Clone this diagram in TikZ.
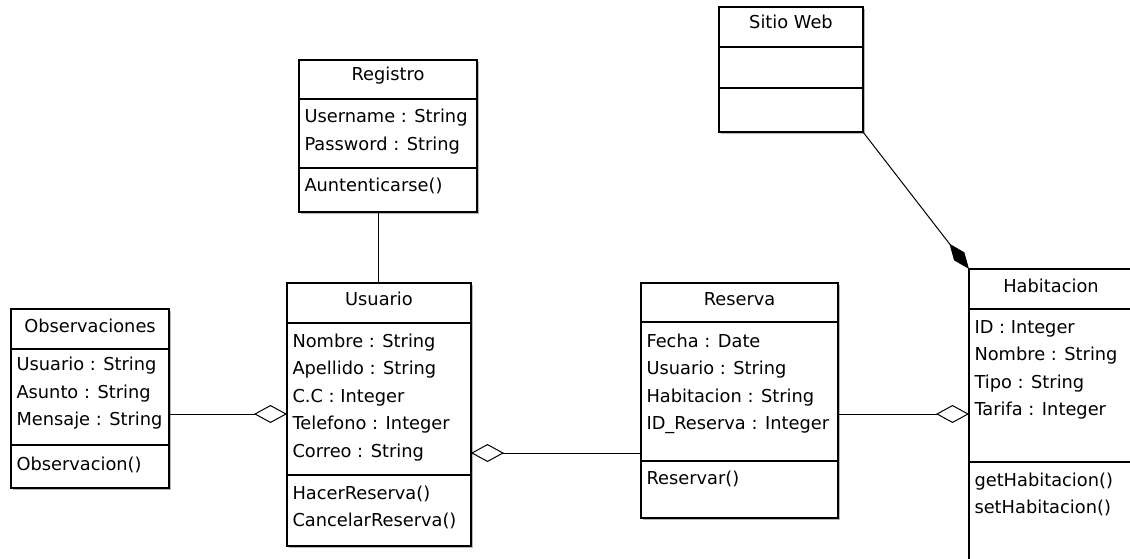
\documentclass[tikz,border=0pt]{standalone}
\usepackage{fontspec}
\setmainfont{DejaVu Sans}
\usetikzlibrary{arrows.meta}

% one UML class frame: name, x, y, width, height, first divider y, second divider y
\newcommand\umlclass[7]{%
  \fill[boxshade] (#2+1.6,#3+1.6) rectangle ++(#4,#5);
  \node[umlbox, minimum width=#4pt, minimum height=#5pt] (#1) at (#2,#3) {};
  \draw[divider] (#2,#6) -- (#2+#4,#6);
  \draw[divider] (#2,#7) -- (#2+#4,#7);
}
% rows of a compartment: name prefix, x, first baseline, list of entries
\newcommand\umlrows[4]{%
  \foreach \t [count=\i] in {#4} {\node[txt] (#1\i) at (#2,{#3+27.6*(\i-1)}) {\t};}
}

\begin{document}
\begin{tikzpicture}[x=1pt,y=-1pt,
  umlbox/.style={draw=black, line width=1.4pt, fill=white, inner sep=0pt, outer sep=0pt, anchor=north west},
  boxshade/.style={fill=black!28},
  divider/.style={line width=1.4pt},
  txt/.style={inner sep=0pt, outer sep=0pt, anchor=base west, font=\fontsize{17.8}{21}\selectfont},
  ttl/.style={txt, anchor=base},
  link/.style={line width=1pt, draw=black},
  agg/.tip={Diamond[open, length=33pt, width=18pt]},
  comp/.tip={Diamond[fill=black, length=32pt, width=13pt]}]
\useasboundingbox (0,0) rectangle (1130,559);
\clip (0,0) rectangle (1130,559);

% class frames
\umlclass{web}{719}{7}{144}{125}{47}{88}
\umlclass{reg}{299}{60}{178}{152}{99}{168}
\umlclass{usu}{287}{283}{184}{263}{323}{475}
\umlclass{obs}{11}{309}{158}{179}{349}{445}
\umlclass{res}{641}{283}{197}{235}{322}{461}
\umlclass{hab}{969}{269}{165}{340}{309}{462}

% titles
\node[ttl] (webT) at (791,29) {Sitio Web};
\node[ttl] (regT) at (388,81) {Registro};
\node[ttl] (usuT) at (379,305) {Usuario};
\node[ttl] (obsT) at (90,332) {Observaciones};
\node[ttl] (resT) at (739.5,305) {Reserva};
\node[ttl] (habT) at (1051,292) {Habitacion};

% attributes and operations
\umlrows{rega}{304.5}{123}{Username : String, Password : String}
\umlrows{regm}{304.5}{191}{Auntenticarse()}
\umlrows{usua}{292.5}{347}{Nombre : String, Apellido : String, C.C : Integer, Telefono : Integer, Correo : String}
\umlrows{usum}{292.5}{499}{HacerReserva(), CancelarReserva()}
\umlrows{obsa}{16.5}{370.5}{Usuario : String, Asunto : String, Mensaje : String}
\umlrows{obsm}{16.5}{470}{Observacion()}
\umlrows{resa}{646.5}{347}{Fecha : Date, Usuario : String, Habitacion : String, ID\_Reserva : Integer}
\umlrows{resm}{646.5}{484}{Reservar()}
\umlrows{haba}{974.5}{333}{ID : Integer, Nombre : String, Tipo : String, Tarifa : Integer}
\umlrows{habm}{974.5}{486}{getHabitacion(), setHabitacion()}

% connector guides
\coordinate (regX) at (378,0);
\coordinate (rowA) at (0,414);
\coordinate (rowB) at (0,453);

% associations
\draw[link] (reg.south -| regX) -- (usu.north -| regX);
\draw[link, -agg] (obs.east |- rowA) -- (usu.west |- rowA);
\draw[link, agg-] (usu.east |- rowB) -- (res.west |- rowB);
\draw[link, -agg] (res.east |- rowA) -- (hab.west |- rowA);
\draw[link, -comp] (web.south east) -- (hab.north west);
\end{tikzpicture}
\end{document}
